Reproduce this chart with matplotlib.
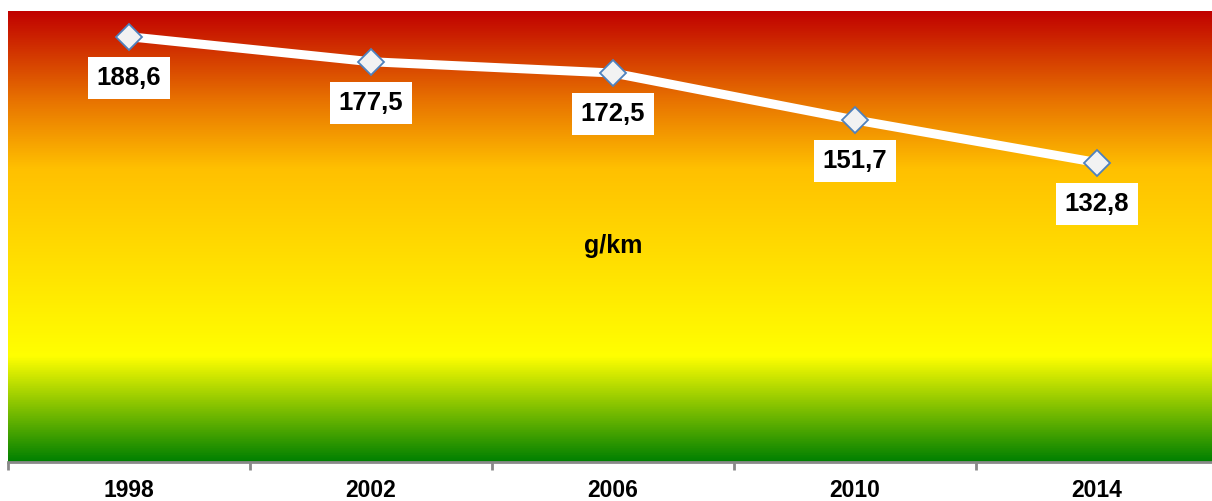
import numpy as np
import matplotlib.pyplot as plt
from matplotlib.colors import LinearSegmentedColormap

years = ['1998', '2002', '2006', '2010', '2014']
values = [188.6, 177.5, 172.5, 151.7, 132.8]
labels = ['188,6', '177,5', '172,5', '151,7', '132,8']

plt.rcParams['font.family'] = ['Liberation Sans', 'DejaVu Sans']

fig = plt.figure(figsize=(12.12, 5.01), dpi=100)
W, H = 1212, 501
ax = fig.add_axes([8 / W, (H - 462) / H, 1210 / W, 451 / H])

# background gradient, bottom (0) to top (1)
cmap = LinearSegmentedColormap.from_list('bg', [
    (0.0, (0 / 255, 128 / 255, 0)),
    (0.233, (1, 1, 0)),
    (0.65, (1, 192 / 255, 0)),
    (0.80, (232 / 255, 115 / 255, 0)),
    (1.0, (192 / 255, 0, 0)),
])
grad = np.linspace(0, 1, 512).reshape(-1, 1)
ax.imshow(grad, cmap=cmap, aspect='auto', origin='lower',
          extent=[0, 1, 0, 1], transform=ax.transAxes, zorder=0)

x = np.arange(len(years))
ax.plot(x, values, color='white', lw=6.5, zorder=2, solid_capstyle='butt')
ax.plot(x, values, ls='none', marker='D', ms=13.5, mfc='#F2F2F2',
        mec='#4F81BD', mew=1.3, zorder=3)

for xi, v, t in zip(x, values, labels):
    ax.annotate(t, (xi, v), xytext=(0, -29.5), textcoords='offset points',
                ha='center', va='center', fontsize=18.5, fontweight='bold',
                bbox=dict(boxstyle='square,pad=0.35', fc='white', ec='none'),
                zorder=4)

ax.text(0.5, 0.48, 'g/km', transform=ax.transAxes, ha='center', va='center',
        fontsize=18, fontweight='bold')

ax.set_xlim(-0.5, 4.5)
ax.set_ylim(0, 200)
ax.set_yticks([])
ax.set_xticks(x)
ax.set_xticklabels(years, fontsize=16.5, fontweight='bold')
ax.set_xticks(np.arange(-0.5, 5, 1), minor=True)
ax.tick_params(axis='x', which='major', length=0, pad=12)
ax.tick_params(axis='x', which='minor', length=6, width=2, color='#898989')
for s in ['top', 'right', 'left']:
    ax.spines[s].set_visible(False)
ax.spines['bottom'].set_color('#898989')
ax.spines['bottom'].set_linewidth(2)

fig.savefig('out.png', dpi=100)
